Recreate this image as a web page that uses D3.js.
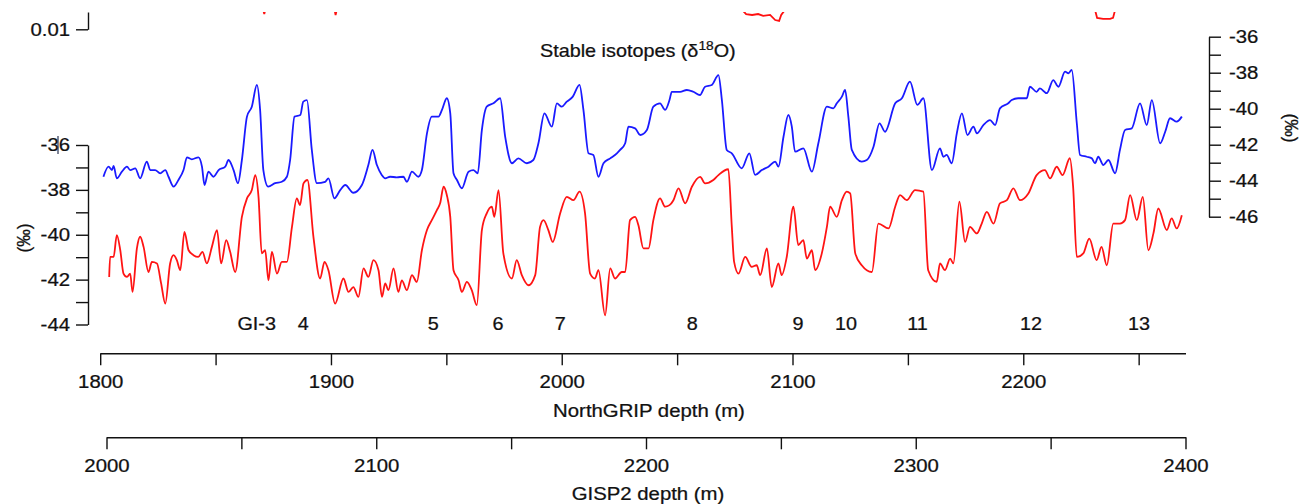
<!DOCTYPE html>
<html>
<head>
<meta charset="utf-8">
<script src="https://cdn.jsdelivr.net/npm/d3@7"></script>
<style>
  body { margin: 0; background: #fff; }
  svg text { font-family: "Liberation Sans", Arial, sans-serif; fill: #111; stroke: #111; stroke-width: 0.25; }
</style>
</head>
<body>
<svg width="1302" height="504"></svg>
<script>
// blue: NorthGRIP d18O (right axis)
const blueDepth = [1801.4,1803.6,1805.1,1805.8,1807.2,1809.4,1811.6,1813.0,1815.2,1817.3,
  1820.2,1821.7,1823.8,1826.0,1828.2,1829.6,1831.8,1833.9,1836.1,1837.6,
  1839.7,1842.6,1844.1,1845.2,1846.9,1849.1,1851.3,1854.2,1855.6,1857.8,
  1859.7,1861.4,1863.6,1865.7,1867.9,1869.3,1870.7,1872.8,1875.8,1878.7,
  1880.9,1882.3,1884.2,1886.7,1888.0,1889.6,1891.7,1893.9,1897.5,1898.9,
  1901.5,1904.0,1906.2,1909.7,1913.4,1916.2,1918.0,1919.9,1922.0,1923.5,
  1925.6,1928.5,1931.4,1932.9,1935.1,1937.9,1939.4,1941.6,1943.7,1946.6,
  1948.1,1950.2,1951.7,1953.1,1954.6,1956.7,1959.6,1961.7,1963.6,1965.4,
  1967.5,1970.4,1973.3,1975.5,1978.4,1981.2,1984.9,1987.7,1989.9,1992.5,
  1995.7,1997.9,2000.0,2002.2,2004.8,2007.7,2009.4,2011.6,2013.7,2015.9,
  2018.1,2021.0,2023.9,2025.3,2027.5,2028.9,2031.8,2034.0,2036.9,2039.7,
  2042.6,2044.8,2046.7,2047.7,2051.3,2054.2,2057.0,2059.9,2062.1,2065.0,
  2067.9,2069.4,2071.5,2073.7,2078.0,2081.3,2083.8,2086.7,2089.6,2092.5,
  2093.9,2096.1,2098.2,2099.7,2101.1,2104.7,2108.4,2111.2,2114.9,2117.7,
  2119.2,2121.4,2122.8,2124.2,2125.7,2130.0,2132.2,2135.1,2137.7,2140.1,
  2144.5,2147.4,2150.9,2154.1,2156.7,2160.4,2163.9,2165.4,2166.8,2169.0,
  2171.2,2173.4,2175.8,2178.4,2179.9,2182.7,2185.6,2187.8,2189.9,2193.5,
  2195.0,2197.9,2201.5,2202.9,2205.8,2207.2,2210.2,2213.0,2215.2,2218.1,
  2219.6,2221.0,2223.2,2224.6,2227.5,2229.7,2231.1,2232.5,2234.7,2236.9,
  2239.8,2241.9,2244.1,2247.0,2250.6,2253.5,2255.7,2259.3,2261.5,2263.6,
  2266.5,2268.7]
const blueIso = [-43.78,-43.22,-43.41,-43.18,-43.87,-43.5,-43.22,-43.41,-43.31,-43.87,
  -42.94,-43.41,-43.41,-43.59,-43.41,-43.78,-44.33,-43.96,-43.41,-42.7,
  -42.81,-42.7,-43.22,-44.24,-43.5,-43.78,-43.41,-43.22,-42.85,-43.41,
  -44.14,-42.85,-40.44,-39.89,-38.68,-40.07,-43.41,-44.33,-44.14,-44.06,
  -43.78,-42.85,-40.44,-40.35,-39.61,-39.52,-42.29,-44.14,-44.06,-43.87,
  -44.98,-44.52,-44.24,-44.67,-44.24,-43.13,-42.29,-43.13,-43.68,-43.87,
  -43.78,-43.81,-43.78,-44.06,-43.5,-43.78,-43.41,-41.37,-40.44,-40.44,
  -40.07,-39.42,-40.26,-43.59,-43.96,-44.42,-43.5,-43.41,-43.59,-41.18,
  -39.89,-39.7,-39.42,-41.56,-43.03,-42.76,-43.03,-42.85,-41.92,-40.26,
  -41.0,-39.7,-39.89,-39.61,-39.33,-38.68,-40.07,-42.48,-42.57,-43.78,
  -43.03,-42.76,-42.48,-42.29,-41.92,-41.0,-41.09,-41.46,-41.18,-39.89,
  -39.7,-40.07,-39.52,-39.06,-39.06,-38.96,-39.06,-39.24,-38.78,-38.68,
  -38.13,-39.52,-42.29,-42.48,-43.31,-42.48,-43.68,-43.41,-43.22,-42.94,
  -43.22,-41.56,-40.35,-41.0,-42.39,-42.2,-43.5,-41.92,-39.89,-39.98,
  -39.7,-39.33,-38.96,-40.44,-42.29,-42.94,-42.85,-42.11,-40.81,-41.28,
  -39.7,-39.42,-38.5,-39.79,-39.42,-43.41,-42.2,-42.67,-42.57,-43.03,
  -41.37,-40.26,-41.46,-41.0,-41.37,-40.91,-40.63,-40.91,-39.98,-39.7,
  -39.52,-39.42,-39.42,-38.78,-39.06,-38.87,-39.14,-38.41,-38.78,-37.94,
  -38.03,-37.85,-40.81,-42.57,-42.67,-42.76,-43.03,-42.67,-43.13,-42.85,
  -43.59,-42.29,-41.18,-41.09,-39.7,-40.91,-39.52,-41.92,-41.28,-40.53,
  -40.72,-40.44]

// red: GISP2 d18O (left axis)
const redDepth = [1803.9,1804.3,1805.8,1807.2,1808.7,1810.1,1811.6,1813.0,1814.0,1815.9,
  1817.3,1818.8,1820.9,1822.4,1824.6,1826.4,1828.2,1830.3,1831.8,1833.2,
  1834.7,1836.5,1838.3,1840.4,1842.5,1844.3,1846.2,1848.4,1850.6,1852.4,
  1854.6,1856.3,1858.5,1861.4,1863.6,1865.7,1867.2,1868.6,1870.0,1871.5,
  1872.9,1874.4,1876.6,1878.7,1880.9,1883.1,1885.2,1886.6,1888.1,1889.8,
  1892.4,1895.3,1897.2,1898.9,1901.8,1905.4,1907.6,1909.7,1911.9,1914.1,
  1916.2,1918.4,1920.6,1922.1,1923.5,1924.9,1927.1,1929.2,1930.7,1932.9,
  1935.1,1937.2,1939.4,1941.6,1943.7,1945.9,1947.3,1948.8,1950.2,1951.7,
  1953.1,1955.3,1956.7,1958.9,1961.0,1963.2,1965.4,1967.5,1969.7,1970.8,
  1972.6,1974.7,1978.4,1980.5,1982.7,1985.6,1988.5,1990.6,1992.1,1994.2,
  1996.1,1999.3,2002.2,2005.1,2007.7,2010.1,2012.3,2014.4,2015.9,2018.8,
  2021.0,2023.1,2026.0,2027.5,2029.6,2031.8,2033.2,2035.4,2037.6,2039.7,
  2042.6,2044.8,2046.7,2048.4,2050.6,2053.5,2056.4,2060.0,2062.1,2065.7,
  2067.9,2072.2,2073.7,2074.7,2076.6,2079.5,2082.3,2084.5,2086.0,2088.9,
  2091.0,2093.9,2095.3,2097.5,2100.4,2102.5,2104.7,2106.2,2108.4,2109.8,
  2112.7,2114.9,2116.3,2119.2,2121.4,2123.5,2125.0,2127.2,2130.0,2134.4,
  2137.2,2141.6,2144.5,2146.6,2149.5,2153.1,2156.7,2158.8,2162.5,2163.9,
  2166.1,2168.3,2169.7,2172.3,2174.8,2176.9,2179.9,2182.0,2184.2,2187.1,
  2189.9,2192.9,2195.7,2198.6,2202.2,2205.8,2209.4,2211.6,2214.5,2217.0,
  2220.2,2221.6,2223.2,2226.0,2228.6,2231.8,2233.9,2236.2,2239.0,2241.9,
  2244.1,2246.3,2249.2,2251.8,2254.2,2256.4,2258.5,2262.2,2264.3,2266.5,
  2268.7]
const redIso = [-41.88,-40.99,-40.99,-40.02,-40.69,-41.73,-41.88,-41.73,-42.55,-40.61,
  -40.09,-40.54,-41.66,-41.21,-41.28,-42.17,-43.07,-41.28,-40.91,-41.13,
  -41.58,-39.87,-40.69,-40.91,-40.99,-40.76,-41.28,-40.54,-39.79,-41.28,
  -40.24,-40.76,-41.66,-39.2,-38.38,-38.01,-37.34,-38.31,-40.83,-40.69,
  -42.03,-40.76,-41.73,-41.21,-41.21,-39.65,-38.38,-38.68,-37.71,-37.56,
  -40.09,-41.95,-41.21,-41.58,-43.07,-41.95,-42.55,-42.33,-42.77,-41.5,
  -41.88,-41.13,-41.58,-42.77,-42.17,-42.47,-41.5,-42.55,-42.03,-42.47,
  -41.8,-42.1,-40.69,-39.79,-39.35,-38.9,-38.6,-37.86,-38.23,-39.2,
  -41.58,-42.03,-42.55,-42.1,-42.47,-43.14,-39.79,-39.05,-38.75,-39.2,
  -38.01,-40.83,-41.95,-41.13,-41.8,-42.25,-41.8,-39.65,-39.35,-39.79,
  -40.32,-39.05,-38.31,-38.46,-38.08,-39.05,-41.73,-41.95,-41.58,-43.59,
  -41.5,-41.95,-41.66,-41.66,-39.35,-39.2,-39.57,-40.61,-40.61,-39.35,
  -38.38,-38.75,-38.68,-38.46,-37.93,-38.6,-37.86,-37.42,-37.71,-37.56,
  -37.34,-37.08,-39.65,-41.21,-41.73,-40.99,-41.43,-41.36,-41.8,-40.61,
  -42.33,-41.28,-41.8,-40.99,-38.75,-40.46,-40.24,-41.06,-40.69,-41.58,
  -40.83,-39.65,-38.75,-39.2,-38.46,-38.08,-38.16,-40.83,-41.36,-41.66,
  -39.5,-39.72,-38.75,-38.23,-38.46,-38.01,-38.08,-41.58,-42.1,-41.28,
  -41.58,-41.06,-41.28,-38.53,-40.32,-39.65,-39.94,-39.5,-38.98,-39.5,
  -38.6,-38.46,-37.93,-38.46,-38.16,-37.34,-37.12,-37.49,-36.97,-37.34,
  -36.59,-37.86,-40.99,-40.83,-40.17,-41.13,-40.54,-41.36,-39.5,-39.5,
  -39.35,-38.23,-39.35,-38.31,-40.69,-39.94,-38.83,-39.79,-39.27,-39.72,
  -39.13]

// interstadial labels
const eventNames = ["GI-3","4","5","6","7","8","9","10","11","12","13"]
const eventDepth = [1867.8,1888.0,1944.3,1972.4,1999.3,2056.5,2102.4,2123.2,2154.2,2203.4,2250.2]

// bits of the panel above (cut off)
const upperDepth = [1802,1866,1868.5,1870.4,1871.1,1871.7,1873.7,
  1899.7,1901.4,1902.0,1902.7,1904.9,
  2076.4,2078.6,2079.9,2082.5,2085.1,2087.3,2090.3,2092.5,2094.2,2095.1,2096.4,2099.0,
  2228.9,2231.1,2232.0,2234.6,2237.6,2238.9,2239.8,2242.0,2268]
const upperVal = [0.037,0.037,0.0224,0.0203,0.0166,0.0203,0.0224,
  0.0224,0.0203,0.0161,0.0203,0.0224,
  0.0224,0.0184,0.0166,0.0161,0.0166,0.0156,0.0161,0.0136,0.0132,0.0161,0.0184,0.0224,
  0.0224,0.0190,0.0146,0.0141,0.0141,0.0146,0.0190,0.0224,0.037]

const ngripTicks = d3.range(1800, 2251, 50)
const gispTicks = d3.range(2000, 2401, 50)
const leftTicks = d3.range(-44, -35, 1)
const rightTicks = d3.range(-46, -35, 1)

const svg = d3.select("svg")
const k = 1.1 // glyphs in the source are a bit wider than Arial
const fs = 18.5
const ink = "#111"

const xN = d3.scaleLinear().domain([1800, 2270.3]).range([100.2, 1185.5])
const xG = d3.scaleLinear().domain([2000, 2400]).range([106.5, 1185.5])
const yRed = d3.scaleLinear().domain([-44, -36]).range([324.5, 145])
const yBlue = d3.scaleLinear().domain([-46, -36]).range([216.7, 36.7])
const yUp = d3.scaleLog().domain([0.01, 0.01777]).range([29.3, 12])

function styleAxis(g) {
    g.attr("font-size", fs).attr("font-family", '"Liberation Sans", Arial, sans-serif')
    g.selectAll("path, line").attr("stroke", ink).attr("stroke-width", 1.4)
    g.selectAll("text").attr("fill", ink)
        .attr("x", function () { return (+d3.select(this).attr("x") || 0) / k })
        .attr("transform", "scale(" + k + ",1)")
}
const evenOnly = d => (d % 2 === 0 ? String(d) : "")
const hundreds = d => (d % 100 === 0 ? String(d) : "")

// upper panel fragment
svg.append("clipPath").attr("id", "upclip")
    .append("rect").attr("x", 88).attr("y", 12).attr("width", 1110).attr("height", 30)
svg.append("g").attr("transform", "translate(88,0)")
    .call(d3.axisLeft(yUp).tickValues([0.01]).tickFormat(() => "0.01").tickSize(12).tickSizeOuter(0).tickPadding(6))
    .call(styleAxis)
svg.append("path")
    .attr("clip-path", "url(#upclip)")
    .attr("d", d3.line().x((d, i) => xN(upperDepth[i])).y(d => yUp(d))(upperVal))
    .attr("fill", "none").attr("stroke", "#ff1010").attr("stroke-width", 1.8)

// main isotope axes
svg.append("g").attr("transform", "translate(88,0)")
    .call(d3.axisLeft(yRed).tickValues(leftTicks).tickFormat(evenOnly).tickSize(12).tickSizeOuter(0).tickPadding(6))
    .call(styleAxis)
svg.append("g").attr("transform", "translate(1209,0)")
    .call(d3.axisRight(yBlue).tickValues(rightTicks).tickFormat(evenOnly).tickSize(12).tickSizeOuter(0).tickPadding(8))
    .call(styleAxis)

// stray mark over the -36 label in the source
svg.append("line")
    .attr("x1", 58).attr("x2", 58)
    .attr("y1", yRed(-36) - 9).attr("y2", yRed(-36) + 9)
    .attr("stroke", "#2a3350").attr("stroke-width", 1.2)

// depth axes
svg.append("g").attr("transform", "translate(0,353.3)")
    .call(d3.axisBottom(xN).tickValues(ngripTicks).tickFormat(hundreds).tickSize(12).tickSizeOuter(0).tickPadding(10))
    .call(styleAxis)
svg.append("g").attr("transform", "translate(0,437.3)")
    .call(d3.axisBottom(xG).tickValues(gispTicks).tickFormat(hundreds).tickSize(12).tickSizeOuter(0).tickPadding(10))
    .call(styleAxis)

// curves
svg.append("path")
    .attr("d", d3.line().curve(d3.curveMonotoneX).x((d, i) => xN(blueDepth[i])).y(d => yBlue(d))(blueIso))
    .attr("fill", "none").attr("stroke", "#1a1aff").attr("stroke-width", 1.8)
svg.append("path")
    .attr("d", d3.line().curve(d3.curveMonotoneX).x((d, i) => xN(redDepth[i])).y(d => yRed(d))(redIso))
    .attr("fill", "none").attr("stroke", "#ff1414").attr("stroke-width", 1.8)

// labels
function label(txt, x, y, anchor, size) {
    return svg.append("text")
        .attr("transform", "translate(" + x + "," + y + ") scale(" + k + ",1)")
        .attr("text-anchor", anchor).attr("font-size", size).text(txt)
}
svg.selectAll(".ev").data(eventNames).enter().append("text")
    .attr("class", "ev")
    .attr("transform", (d, i) => "translate(" + xN(eventDepth[i]) + ",329.5) scale(" + k + ",1)")
    .attr("text-anchor", "middle").attr("font-size", 18).text(d => d)

const title = label("Stable isotopes (\u03B4", 540, 57, "start", 18)
title.append("tspan").attr("dy", -7).attr("font-size", 12.5).text("18")
title.append("tspan").attr("dy", 7).text("O)")

label("NorthGRIP depth (m)", 649, 417, "middle", fs)
label("GISP2 depth (m)", 648, 500, "middle", fs)

svg.append("text").attr("transform", "translate(30,238) rotate(-90)")
    .attr("text-anchor", "middle").attr("font-size", 17.5).text("(\u2030)")
svg.append("text").attr("transform", "translate(1285,128) rotate(90)")
    .attr("text-anchor", "middle").attr("font-size", 17.5).text("(\u2030)")
</script>
</body>
</html>
